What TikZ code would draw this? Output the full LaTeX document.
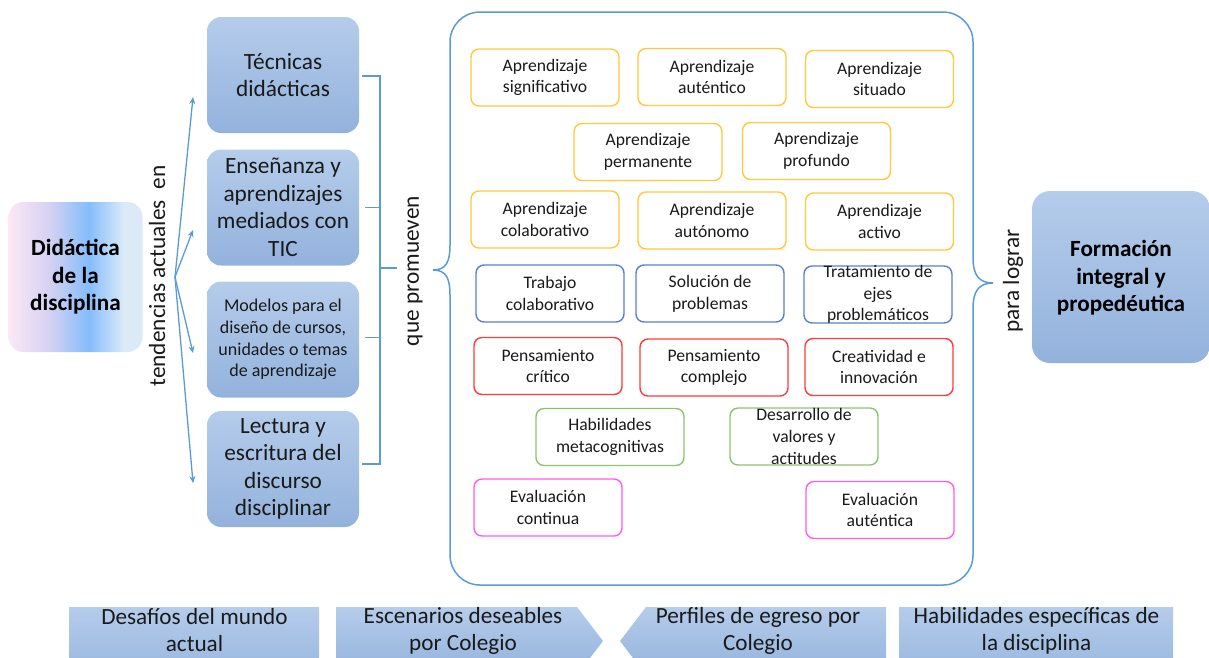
\documentclass[tikz,border=0pt]{standalone}
\usepackage{fontspec}
\setmainfont{Carlito}
\usetikzlibrary{arrows.meta}
\definecolor{bxtop}{HTML}{B5CCEB}
\definecolor{bxbot}{HTML}{93B2DC}
\definecolor{lnblue}{HTML}{5B9BD5}
\definecolor{cyel}{HTML}{FFC83D}
\definecolor{cblu}{HTML}{5A7FD0}
\definecolor{cred}{HTML}{FF3B3B}
\definecolor{cgrn}{HTML}{8CC46E}
\definecolor{cmag}{HTML}{FF5CE8}
\definecolor{txt}{HTML}{1A1A1A}
\definecolor{didA}{HTML}{FCE8F5}
\definecolor{didB}{HTML}{D6D2F2}
\definecolor{didC}{HTML}{84BDFB}
\definecolor{didD}{HTML}{DCEAF8}
\pgfdeclarehorizontalshading{didshade}{100bp}{color(0bp)=(didA); color(25bp)=(didA); color(40bp)=(didB); color(55bp)=(didC); color(68bp)=(didD); color(75bp)=(didD); color(100bp)=(didD)}
\tikzset{
  bigbox/.style={rounded corners=14pt, top color=bxtop, bottom color=bxbot, draw=none,
    minimum width=152pt, minimum height=116pt, inner sep=0pt, align=center,
    font=\fontsize{23.3}{27.5}\selectfont, text=txt},
  sbox/.style={draw=#1, line width=1.4pt, rounded corners=8pt, fill=white,
    minimum width=148pt, minimum height=57pt, inner sep=0pt, align=center,
    font=\fontsize{17.6}{21.7}\selectfont, text=txt},
  stext/.style={inner sep=0pt, align=center, font=\fontsize{17.6}{21.7}\selectfont, text=txt},
  rot/.style={rotate=90, inner sep=0pt, font=\fontsize{23.3}{27}\selectfont, text=txt},
  fanarrow/.style={draw=lnblue, line width=1.3pt, -{Stealth[length=7pt,width=6pt]}},
  brk/.style={draw=lnblue, line width=1.4pt},
  strip/.style={top color=bxtop, bottom color=bxbot, draw=none},
  btxt/.style={inner sep=0pt, align=center, font=\fontsize{23.2}{27}\selectfont, text=txt},
  boldtxt/.style={inner sep=0pt, align=center, font=\bfseries\fontsize{23.2}{27.5}\selectfont, text=black}
}
\begin{document}
\begin{tikzpicture}[x=1pt,y=-1pt]
\useasboundingbox (0,0) rectangle (1209,657);
\clip (0,0) rectangle (1209,657);

% left main node
\node[rounded corners=15pt, shading=didshade, minimum width=134pt, minimum height=150pt, inner sep=0pt] (did) at (75.5,277) {};
\node[boldtxt] (didT) at (did.center) {Didáctica\\de la\\disciplina};

% fan of arrows
\coordinate (fan) at (175,277);
\coordinate (t1) at (193,97);
\coordinate (t2) at (193,230);
\coordinate (t3) at (193,353);
\coordinate (t4) at (193,483);
\draw[fanarrow] (fan) -- (t1);
\draw[fanarrow] (fan) -- (t2);
\draw[fanarrow] (fan) -- (t3);
\draw[fanarrow] (fan) -- (t4);
\node[rot] (tend) at (157,276) {tendencias actuales\ \ en};

% blue boxes
\node[bigbox] (b1) at (283,75) {Técnicas\\didácticas};
\node[bigbox] (b2) at (283,207.5) {Enseñanza y\\aprendizajes\\mediados con\\TIC};
\node[bigbox, font=\fontsize{18}{21.7}\selectfont] (b3) at (283,339.5) {Modelos para el\\diseño de cursos,\\unidades o temas\\de aprendizaje};
\node[bigbox] (b4) at (283,469) {Lectura y\\escritura del\\discurso\\disciplinar};

% bracket
\coordinate (bm) at (380,268);
\coordinate (bq) at (397,268);
\draw[brk] ([xshift=3pt,yshift=-1pt]b1.east) -| (bm);
\draw[brk] ([xshift=3pt,yshift=5pt]b4.east) -| (bm);
\draw[brk] ([xshift=6pt]b2.east) -- (b2.east -| bm);
\draw[brk] ([xshift=6pt,yshift=2pt]b3.east) -- ([yshift=2pt]b3.east -| bm);
\draw[brk] (bm) -- (bq);
\node[rot] (prom) at (415,271) {que promueven};

% container with braces
\draw[lnblue, line width=1.5pt]
  (480,12) -- (943,12) .. controls (959.6,12) and (973,25.4) .. (973,42)
  -- (973,258) .. controls (973,275) and (979,283) .. (993,283)
  .. controls (979,283) and (973,291) .. (973,308)
  -- (973,555) .. controls (973,571.6) and (959.6,585) .. (943,585)
  -- (480,585) .. controls (463.4,585) and (450,571.6) .. (450,555)
  -- (450,295) .. controls (450,278) and (446,270) .. (433,270)
  .. controls (446,270) and (450,262) .. (450,245)
  -- (450,42) .. controls (450,25.4) and (463.4,12) .. (480,12) -- cycle;

% inner boxes
\node[sbox=cyel] (sig) at (545,77.5) {Aprendizaje\\significativo};
\node[sbox=cyel] (aut) at (712,77) {Aprendizaje\\auténtico};
\node[sbox=cyel] (sit) at (879.5,79) {Aprendizaje\\situado};
\node[sbox=cyel] (perm) at (648,152) {Aprendizaje\\permanente};
\node[sbox=cyel] (prof) at (816.5,151) {Aprendizaje\\profundo};
\node[sbox=cyel] (col) at (545,219.5) {Aprendizaje\\colaborativo};
\node[sbox=cyel] (auto) at (712,220.5) {Aprendizaje\\autónomo};
\node[sbox=cyel] (act) at (879.5,221.5) {Aprendizaje\\activo};
\node[sbox=cblu] (trab) at (550,293.5) {Trabajo\\colaborativo};
\node[sbox=cblu] (sol) at (710,293.5) {Solución de\\problemas};
\node[sbox=cblu] (trat) at (878,294.5) {};
\node[stext] (tratT) at (trat.center) {Tratamiento de\\ejes\\problemáticos};
\node[sbox=cred] (pc) at (548,366) {Pensamiento\\crítico};
\node[sbox=cred] (pcomp) at (714,367.5) {Pensamiento\\complejo};
\node[sbox=cred] (crea) at (879,367) {Creatividad e\\innovación};
\node[sbox=cgrn] (hab) at (610,437) {Habilidades\\metacognitivas};
\node[sbox=cgrn] (des) at (804,436.5) {};
\node[stext] (desT) at (des.center) {Desarrollo de\\valores y\\actitudes};
\node[sbox=cmag] (evc) at (548,507.5) {Evaluación\\continua};
\node[sbox=cmag] (eva) at (880,510) {Evaluación\\auténtica};

% right
\node[rot] (lograr) at (1013,281) {para lograr};
\node[bigbox, minimum width=178pt, minimum height=172pt, rounded corners=18pt] (form) at (1121,277) {};
\node[boldtxt] (formT) at (1121,278) {Formación\\integral y\\propedéutica};

% bottom strips
\shade[strip] (69,607) rectangle (319,690);
\shade[strip] (336,607) -- (577,607) -- (603,641) -- (577,675) -- (336,675) -- cycle;
\shade[strip] (886,607) -- (646,607) -- (620,641) -- (646,675) -- (886,675) -- cycle;
\shade[strip] (899,607) rectangle (1173,690);
\node[btxt] (s1) at (194.5,630.5) {Desafíos del mundo\\actual};
\node[btxt] (s2) at (463,630.5) {Escenarios deseables\\por Colegio};
\node[btxt] (s3) at (758,630.5) {Perfiles de egreso por\\Colegio};
\node[btxt] (s4) at (1036.5,630.5) {Habilidades específicas de\\la disciplina};
\end{tikzpicture}
\end{document}
